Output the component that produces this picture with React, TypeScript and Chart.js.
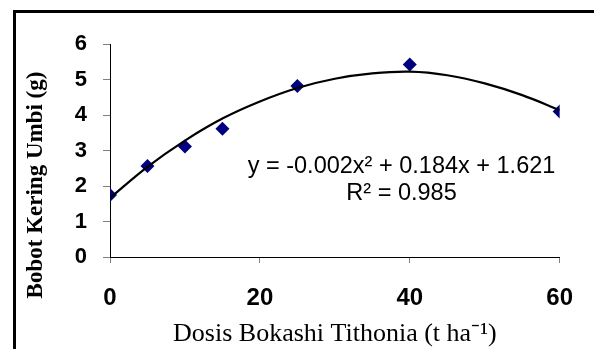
import React, { useEffect, useRef } from "react";
import { Chart, registerables } from "chart.js";

Chart.register(...registerables);

// Observed data (Dosis Bokashi Tithonia vs Bobot Kering Umbi)
const doses = [0, 5, 10, 15, 25, 40, 60];
const dryWeight = [1.75, 2.56, 3.11, 3.61, 4.82, 5.42, 4.1];

// Polynomial trendline
const trendX = [0, 5, 10, 15, 20, 25, 30, 35, 40, 45, 50, 55, 60];
const trendY = [1.66, 2.54, 3.28, 3.9, 4.38, 4.76, 5.02, 5.17, 5.22, 5.12, 4.89, 4.56, 4.14];

const xTickValues = [0, 20, 40, 60];
const yTickValues = [0, 1, 2, 3, 4, 5, 6];

const equationLines = ["y = -0.002x\u00B2 + 0.184x + 1.621", "R\u00B2 = 0.985"];
const xTitle = "Dosis Bokashi Tithonia (t ha\u207B\u00B9)";
const yTitle = "Bobot Kering Umbi (g)";

const W = 594;
const H = 349;

const framePlugin = {
  id: "frame",
  beforeDraw(chart: any) {
    const ctx = chart.ctx;
    ctx.save();
    ctx.fillStyle = "#ffffff";
    ctx.fillRect(0, 0, chart.width, chart.height);
    ctx.strokeStyle = "#000000";
    ctx.lineWidth = 3;
    ctx.strokeRect(14.5, 11.5, chart.width + 20, chart.height + 20);
    ctx.restore();
  },
};

const equationPlugin = {
  id: "equation",
  afterDraw(chart: any) {
    const ctx = chart.ctx;
    const xs = chart.scales.x;
    const ys = chart.scales.y;
    const cx = xs.getPixelForValue(38.9);
    const baselines = [2.37, 1.6];
    ctx.save();
    ctx.fillStyle = "#000000";
    ctx.font = "23.5px Arial, 'Liberation Sans', sans-serif";
    ctx.textAlign = "center";
    ctx.textBaseline = "alphabetic";
    equationLines.forEach((line, i) => {
      ctx.fillText(line, cx, ys.getPixelForValue(baselines[i]));
    });
    ctx.restore();
  },
};

export default function App() {
  const canvasRef = useRef<HTMLCanvasElement | null>(null);

  useEffect(() => {
    document.body.style.margin = "0";
    const canvas = canvasRef.current;
    if (!canvas) return;
    const chart = new Chart(canvas, {
      type: "scatter",
      data: {
        datasets: [
          {
            label: "Trend",
            data: trendX.map((x, i) => ({ x, y: trendY[i] })),
            showLine: true,
            borderColor: "#000000",
            borderWidth: 2.2,
            pointRadius: 0,
            pointHoverRadius: 0,
            tension: 0.4,
            fill: false,
          },
          {
            label: "Bobot Kering Umbi",
            data: doses.map((x, i) => ({ x, y: dryWeight[i] })),
            pointStyle: "rectRot",
            pointRadius: 7,
            pointBackgroundColor: "#000080",
            pointBorderColor: "#000080",
            pointBorderWidth: 0,
            showLine: false,
          },
        ],
      },
      options: {
        responsive: false,
        animation: false,
        events: [],
        layout: { padding: { left: 0, top: 44, right: 30, bottom: 0 } },
        plugins: {
          legend: { display: false },
          tooltip: { enabled: false },
        },
        scales: {
          x: {
            type: "linear",
            min: 0,
            max: 60,
            afterBuildTicks: (scale: any) => {
              scale.ticks = xTickValues.map((v) => ({ value: v }));
            },
            afterFit: (scale: any) => {
              scale.height = 92;
            },
            grid: {
              drawOnChartArea: false,
              drawTicks: true,
              tickLength: 6,
              tickColor: "#808080",
            },
            border: { display: true, color: "#000000", width: 1 },
            ticks: {
              color: "#000000",
              padding: 21,
              font: { family: "Arial, 'Liberation Sans', sans-serif", size: 24, weight: "bold" },
            },
            title: {
              display: true,
              text: xTitle,
              color: "#000000",
              padding: { top: 0, bottom: -1 },
              font: { family: "'Times New Roman', 'Liberation Serif', serif", size: 26, weight: "normal" },
            },
          },
          y: {
            type: "linear",
            min: 0,
            max: 6,
            afterBuildTicks: (scale: any) => {
              scale.ticks = yTickValues.map((v) => ({ value: v }));
            },
            afterFit: (scale: any) => {
              scale.width = 110;
            },
            grid: {
              drawOnChartArea: false,
              drawTicks: true,
              tickLength: 7,
              tickColor: "#808080",
            },
            border: { display: true, color: "#000000", width: 1 },
            ticks: {
              color: "#000000",
              padding: 16,
              font: { family: "Arial, 'Liberation Sans', sans-serif", size: 22, weight: "bold" },
            },
            title: {
              display: true,
              text: yTitle + "            ",
              color: "#000000",
              padding: { top: 22, bottom: 0 },
              font: { family: "'Times New Roman', 'Liberation Serif', serif", size: 23, weight: "bold" },
            },
          },
        },
      },
      plugins: [framePlugin, equationPlugin],
    });
    return () => chart.destroy();
  }, []);

  return (
    <div style={{ width: W, height: H }}>
      <canvas ref={canvasRef} width={W} height={H} style={{ display: "block" }} />
    </div>
  );
}
